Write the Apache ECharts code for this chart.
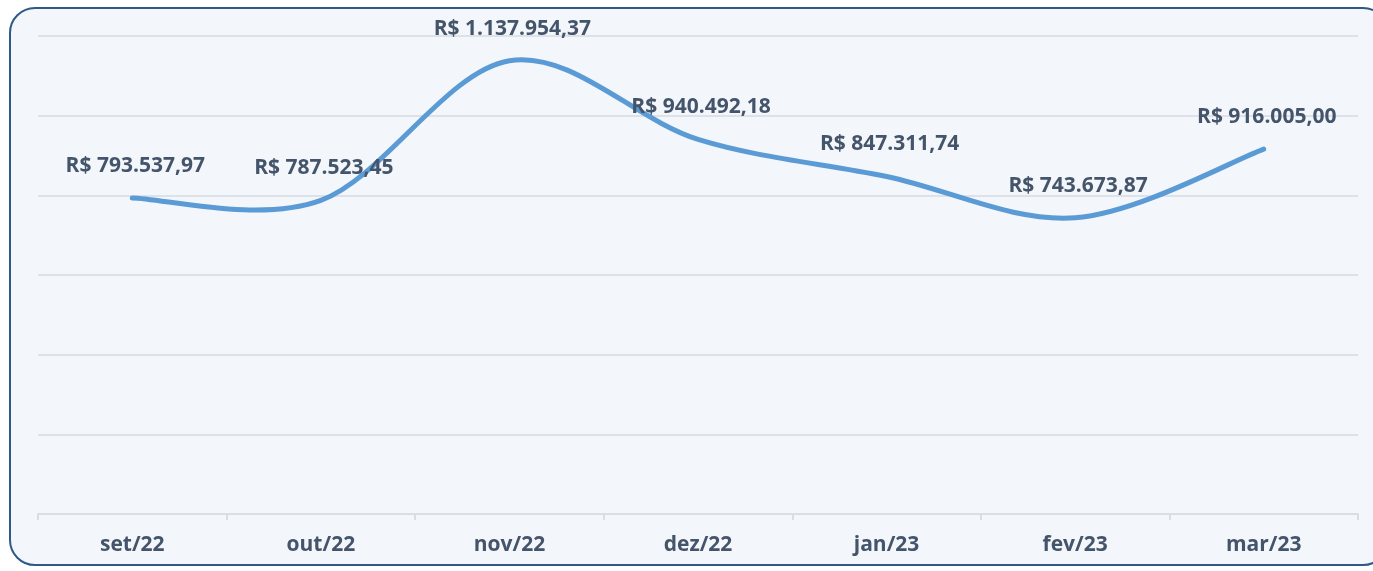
<!DOCTYPE html>
<html>
<head>
<meta charset="utf-8">
<script src="https://cdn.jsdelivr.net/npm/echarts@6/dist/echarts.min.js"></script>
<style>
html,body{margin:0;padding:0;background:#ffffff;width:1373px;height:571px;overflow:hidden;}
#frame{position:absolute;left:9px;top:7px;width:1380px;height:559px;border:2.5px solid #2f5a86;border-radius:26px;background:#f3f6fa;box-sizing:border-box;}
#chart{position:absolute;left:0;top:0;width:1373px;height:571px;}
</style>
</head>
<body>
<div id="frame"></div>
<div id="chart"></div>
<script>
const categories = ['set/22','out/22','nov/22','dez/22','jan/23','fev/23','mar/23'];
const values = [793537.97, 787523.45, 1137954.37, 940492.18, 847311.74, 743673.87, 916005.00];
const yMin = 0, yMax = 1200000, yInterval = 200000;

function brl(v){
  const parts = v.toFixed(2).split('.');
  const intPart = parts[0].replace(/\B(?=(\d{3})+(?!\d))/g, '.');
  return 'R$ ' + intPart + ',' + parts[1];
}

const FONT = 'Open Sans';
const chart = echarts.init(document.getElementById('chart'));
chart.setOption({
  backgroundColor: 'transparent',
  animation: false,
  grid: {left: 38, right: 15, top: 36, bottom: 57, containLabel: false},
  xAxis: {
    type: 'category',
    data: categories,
    boundaryGap: true,
    axisLine: {show: true, lineStyle: {color: '#d9dee5', width: 2}},
    axisTick: {show: true, length: 6, lineStyle: {color: '#d9dee5', width: 2}},
    axisLabel: {color: '#44546a', fontFamily: FONT, fontWeight: 'bold', fontSize: 21, margin: 21}
  },
  yAxis: {
    type: 'value',
    min: yMin, max: yMax, interval: yInterval,
    axisLine: {show: false},
    axisTick: {show: false},
    axisLabel: {show: false},
    splitLine: {show: true, lineStyle: {color: '#dde2e8', width: 2}}
  },
  series: [{
    type: 'custom',
    data: values.map((v, i) => [i, v]),
    silent: true,
    z: 3,
    renderItem: function (params, api) {
      if (params.dataIndex !== 0) return null;
      const pts = values.map((v, i) => api.coord([i, v]));
      const n = pts.length;
      let d = 'M' + pts[0][0] + ',' + pts[0][1];
      for (let i = 0; i < n - 1; i++) {
        const p0 = pts[Math.max(i - 1, 0)], p1 = pts[i], p2 = pts[i + 1], p3 = pts[Math.min(i + 2, n - 1)];
        const c1x = p1[0] + (p2[0] - p0[0]) / 6, c1y = p1[1] + (p2[1] - p0[1]) / 6;
        const c2x = p2[0] - (p3[0] - p1[0]) / 6, c2y = p2[1] - (p3[1] - p1[1]) / 6;
        d += ' C' + c1x + ',' + c1y + ' ' + c2x + ',' + c2y + ' ' + p2[0] + ',' + p2[1];
      }
      return {
        type: 'path',
        shape: {pathData: d},
        style: {fill: 'none', stroke: '#5b9bd5', lineWidth: 5, lineCap: 'round'}
      };
    }
  }, {
    type: 'line',
    data: values,
    symbol: 'circle',
    symbolSize: 1,
    showSymbol: true,
    itemStyle: {color: 'rgba(0,0,0,0)'},
    lineStyle: {opacity: 0},
    z: 4,
    label: {
      show: true,
      position: 'top',
      distance: 21,
      offset: [3, 0],
      color: '#44546a',
      fontFamily: FONT,
      fontWeight: 'bold',
      fontSize: 21,
      formatter: p => brl(p.value)
    }
  }]
});
</script>
</body>
</html>
